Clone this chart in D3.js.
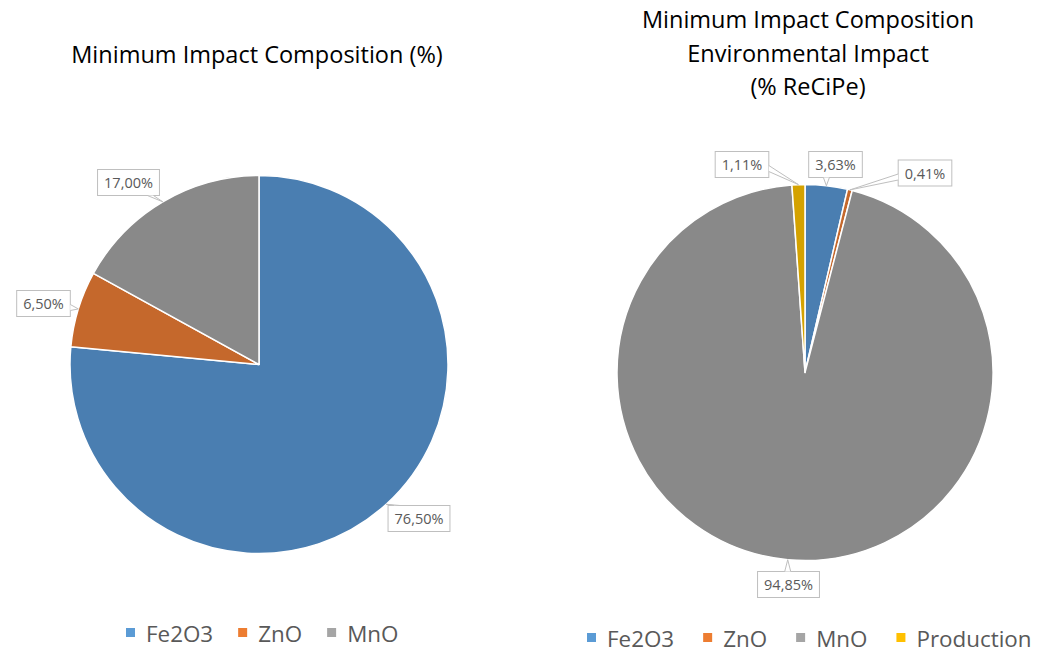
<!DOCTYPE html>
<html>
<head>
<meta charset="utf-8">
<script src="https://cdn.jsdelivr.net/npm/d3@7"></script>
<style>
  html, body { margin: 0; padding: 0; background: #ffffff; }
  svg { display: block; }
</style>
</head>
<body>
<svg id="chart" width="1040" height="653"></svg>
<script>
// Composition shares (%)
const leftCategories = ["Fe2O3", "ZnO", "MnO"];
const leftValues = [76.50, 6.50, 17.00];

// Environmental impact shares (% ReCiPe)
const rightCategories = ["Fe2O3", "ZnO", "MnO", "Production"];
const rightValues = [3.63, 0.41, 94.85, 1.11];

const leftTitle = ["Minimum Impact Composition (%)"];
const rightTitle = ["Minimum Impact Composition", "Environmental Impact", "(% ReCiPe)"];

// slice fills and legend swatches
const sliceColor = d3.scaleOrdinal()
  .domain(["Fe2O3", "ZnO", "MnO", "Production"])
  .range(["#4a7eb1", "#c5682c", "#898989", "#d4a200"]);
const swatchColor = d3.scaleOrdinal()
  .domain(["Fe2O3", "ZnO", "MnO", "Production"])
  .range(["#5b9bd5", "#ed7d31", "#a5a5a5", "#ffc000"]);

const fmt = v => d3.format(".2f")(v).replace(".", ",") + "%";
const FONT = "'Open Sans', 'DejaVu Sans', sans-serif";
const TEXT = "#595959";

const svg = d3.select("#chart");

function drawPie(cfg) {
  const g = svg.append("g").attr("transform", `translate(${cfg.cx},${cfg.cy})`);
  const pie = d3.pie().sort(null).value(d => d.value);
  const arcs = pie(cfg.categories.map((c, i) => ({ name: c, value: cfg.values[i] })));
  const arc = d3.arc().innerRadius(0).outerRadius(cfg.r);

  g.selectAll("path.slice")
    .data(arcs)
    .join("path")
    .attr("class", "slice")
    .attr("d", arc)
    .attr("fill", d => sliceColor(d.data.name))
    .attr("stroke", "#ffffff")
    .attr("stroke-width", 1.5)
    .attr("stroke-linejoin", "round");

  // callout labels
  arcs.forEach((a, i) => {
    const mid = (a.startAngle + a.endAngle) / 2;
    const tip = [cfg.r * Math.sin(mid), -cfg.r * Math.cos(mid)];
    const [ox, oy] = cfg.labelOffsets[i];
    const lg = g.append("g");
    const t = lg.append("text")
      .attr("x", ox).attr("y", oy)
      .attr("text-anchor", "middle")
      .attr("dominant-baseline", "central")
      .attr("font-family", FONT)
      .attr("font-size", 14.5)
      .attr("fill", TEXT)
      .text(fmt(a.data.value));
    const w = t.node().getComputedTextLength() + 13;
    const h = 26;
    const x0 = ox - w / 2, y0 = oy - h / 2;
    lg.insert("rect", "text")
      .attr("x", x0).attr("y", y0).attr("width", w).attr("height", h)
      .attr("fill", "#ffffff").attr("stroke", "#bfbfbf").attr("stroke-width", 1);
    // wedge from the nearest box edge to the slice edge
    let b1, b2;
    const dx = tip[0] - ox, dy = tip[1] - oy;
    if (Math.abs(dy) / h > Math.abs(dx) / w) {
      const ey = dy > 0 ? y0 + h : y0;
      const bx = Math.max(x0 + 6, Math.min(x0 + w - 12, tip[0] - 3));
      b1 = [bx, ey]; b2 = [bx + 6, ey];
    } else {
      const ex = dx > 0 ? x0 + w : x0;
      const by = Math.max(y0 + 6, Math.min(y0 + h - 12, tip[1] - 3));
      b1 = [ex, by]; b2 = [ex, by + 6];
    }
    lg.insert("path", "text")
      .attr("d", `M${b1[0]},${b1[1]}L${tip[0]},${tip[1]}L${b2[0]},${b2[1]}`)
      .attr("fill", "#ffffff").attr("stroke", "#bfbfbf").attr("stroke-width", 1);
  });

  // title
  const tt = svg.append("text")
    .attr("x", cfg.titleX)
    .attr("text-anchor", "middle")
    .attr("font-family", FONT)
    .attr("font-size", 23.5)
    .attr("fill", "#000000");
  cfg.title.forEach((line, i) => {
    tt.append("tspan").attr("x", cfg.titleX).attr("y", cfg.titleY + i * 33.5).text(line);
  });

  // legend
  const lg = svg.append("g").attr("transform", `translate(0,${cfg.legendY})`);
  let x = cfg.legendX;
  cfg.categories.forEach(c => {
    lg.append("rect").attr("x", x).attr("y", -5).attr("width", 9).attr("height", 9)
      .attr("fill", swatchColor(c));
    const t = lg.append("text")
      .attr("x", x + 20).attr("y", 0)
      .attr("dominant-baseline", "central")
      .attr("font-family", FONT)
      .attr("font-size", 22.4)
      .attr("fill", TEXT)
      .text(c);
    x += 20 + t.node().getComputedTextLength() + cfg.legendGap;
  });
}

drawPie({
  cx: 259, cy: 364.5, r: 189,
  categories: leftCategories, values: leftValues,
  labelOffsets: [[160, 154], [-215.5, -61], [-130.5, -182]],
  title: leftTitle, titleX: 257, titleY: 63,
  legendX: 126, legendY: 633, legendGap: 25
});

drawPie({
  cx: 805, cy: 372.5, r: 188,
  categories: rightCategories, values: rightValues,
  labelOffsets: [[30.5, -208], [120, -199.5], [-16.5, 212], [-63, -208]],
  title: rightTitle, titleX: 808, titleY: 28,
  legendX: 587, legendY: 638, legendGap: 29
});
</script>
</body>
</html>
